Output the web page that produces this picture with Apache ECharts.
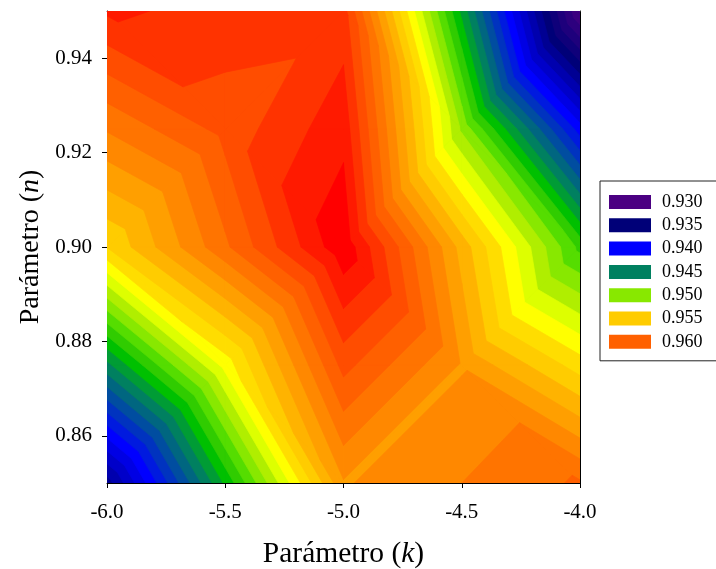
<!DOCTYPE html>
<html>
<head>
<meta charset="utf-8">
<style>html,body{margin:0;padding:0;background:#fff}#c{width:716px;height:569px}</style>
<script src="https://cdn.jsdelivr.net/npm/echarts@6/dist/echarts.min.js"></script>
</head>
<body>
<div id="c"></div>
<script>
// Data
const kValues = [-6, -5.5, -5, -4.5, -4];
const nValues = [0.85, 0.875, 0.90, 0.925, 0.95];
const n085  = [0.9365, 0.9472, 0.9579, 0.9590, 0.96015];
const n0875 = [0.9457, 0.9534, 0.96135, 0.9579, 0.9545];
const n090  = [0.95503, 0.9598, 0.9648, 0.9566, 0.9487];
const n0925 = [0.9591, 0.96135, 0.96368, 0.9508, 0.9405];
const n095  = [0.96317, 0.9627, 0.96243, 0.9467, 0.9308];
const surface = [n085, n0875, n090, n0925, n095];

const levels = [0.930,0.931,0.932,0.933,0.934,0.935,0.936,0.937,0.938,0.939,0.940,0.941,0.942,0.943,0.944,0.945,0.946,0.947,0.948,0.949,0.950,0.951,0.952,0.953,0.954,0.955,0.956,0.957,0.958,0.959,0.960,0.961,0.962,0.963,0.964];
const levelColors = ['#4b0082','#3c0080','#2d007e','#1e007c','#0f007a','#000078','#000093','#0000ae','#0000c9','#0000e4','#0000ff','#001adf','#0033bf','#004da0','#006680','#008060','#009c35','#00c000','#30cc00','#55dd00','#88e800','#b0ee00','#ddff00','#ffff00','#ffdd00','#ffcc00','#ffb300','#ff9f00','#ff8800','#ff7400','#ff6000','#ff4d00','#ff3300','#ff1a00','#ff0000'];

const legendLabels = ['0.930','0.935','0.940','0.945','0.950','0.955','0.960'];
const legendColors = ['#4b0082','#000078','#0000ff','#008060','#88e800','#ffcc00','#ff6000'];
const nTicks = [0.86, 0.88, 0.90, 0.92, 0.94];

// Triangles of the grid: diagonals join nodes with even i+j
function triangles() {
  const out = [];
  const node = (i, j) => [kValues[i], nValues[j], surface[j][i]];
  for (let j = 0; j < nValues.length - 1; j++) {
    for (let i = 0; i < kValues.length - 1; i++) {
      const a = node(i, j), b = node(i + 1, j), c = node(i + 1, j + 1), d = node(i, j + 1);
      if ((i + j) % 2 === 0) { out.push([a, b, c], [a, c, d]); }
      else { out.push([a, b, d], [b, c, d]); }
    }
  }
  return out;
}
// Part of a triangle with value >= level
function clipAbove(tri, level) {
  const res = [];
  for (let s = 0; s < tri.length; s++) {
    const p = tri[s], q = tri[(s + 1) % tri.length];
    const pIn = p[2] >= level, qIn = q[2] >= level;
    if (pIn) res.push(p);
    if (pIn !== qIn) {
      const t = (level - p[2]) / (q[2] - p[2]);
      res.push([p[0] + t * (q[0] - p[0]), p[1] + t * (q[1] - p[1]), level]);
    }
  }
  return res;
}
const tris = triangles();
const polys = [];
levels.forEach((lv, li) => {
  tris.forEach(t => {
    const poly = clipAbove(t, lv);
    if (poly.length >= 3) polys.push({ color: levelColors[li], pts: poly });
  });
});

const serif = 'Liberation Serif';
const chart = echarts.init(document.getElementById('c'), null, { renderer: 'canvas' });
const lineBlack = { show: true, onZero: false, lineStyle: { color: '#000', width: 1 } };
const legendSeries = legendLabels.map((name, i) => ({
  name, type: 'custom', coordinateSystem: 'cartesian2d', data: [],
  itemStyle: { color: legendColors[i] }, renderItem: () => null
}));
const titleStyle = size => ({ fontFamily: serif, fontSize: size, color: '#000', rich: { i: { fontFamily: serif, fontSize: size, fontStyle: 'italic', color: '#000' } } });
chart.setOption({
  animation: false,
  backgroundColor: '#fff',
  textStyle: { fontFamily: serif },
  grid: { left: 107, right: 136, top: 11, bottom: 86, containLabel: false, outerBoundsMode: 'none' },
  legend: {
    orient: 'vertical', left: 600, top: 181, width: 140,
    padding: [12, 70, 10, 9], itemWidth: 42, itemHeight: 14, itemGap: 5.3,
    icon: 'rect', borderColor: '#222', borderWidth: 1, backgroundColor: '#fff',
    data: legendLabels, selectedMode: false,
    textStyle: { fontFamily: serif, fontSize: 18, color: '#000', padding: [0, 0, 0, 6] }
  },
  xAxis: [{
    type: 'value', min: -6, max: -4, interval: 0.5, position: 'bottom',
    axisLine: lineBlack, splitLine: { show: false },
    axisTick: { show: true, length: 5, lineStyle: { color: '#000' } },
    axisLabel: { fontFamily: serif, fontSize: 21, color: '#000', margin: 19, formatter: v => v.toFixed(1) },
    name: 'Parámetro ({i|k})', nameLocation: 'middle', nameGap: 56,
    nameTextStyle: titleStyle(29.5)
  }, {
    type: 'value', min: -6, max: -4, position: 'top',
    axisLine: { show: true, onZero: false, lineStyle: { color: '#666', width: 1 } },
    axisTick: { show: false }, axisLabel: { show: false }, splitLine: { show: false }
  }],
  yAxis: [{
    type: 'value', min: 0.85, max: 0.95, position: 'left',
    axisLine: lineBlack, splitLine: { show: false },
    axisTick: { show: true, length: 5, lineStyle: { color: '#000' }, customValues: nTicks },
    axisLabel: { fontFamily: serif, fontSize: 21, color: '#000', margin: 15, customValues: nTicks, formatter: v => v.toFixed(2) },
    name: 'Parámetro ({i|n})', nameLocation: 'middle', nameGap: 62, nameRotate: 90,
    nameTextStyle: titleStyle(28)
  }, {
    type: 'value', min: 0.85, max: 0.95, position: 'right',
    axisLine: lineBlack, axisTick: { show: false }, axisLabel: { show: false }, splitLine: { show: false }
  }],
  series: [{
    name: 'contour', type: 'custom', coordinateSystem: 'cartesian2d', xAxisIndex: 0, yAxisIndex: 0,
    clip: true, progressive: 0, z: 1, silent: true,
    data: polys.map(p => [p.pts[0][0], p.pts[0][1]]),
    renderItem: (params, api) => {
      const p = polys[params.dataIndex];
      return {
        type: 'polygon',
        shape: { points: p.pts.map(q => api.coord([q[0], q[1]])) },
        style: { fill: p.color, stroke: p.color, lineWidth: 0.7 }
      };
    }
  }].concat(legendSeries)
});
</script>
</body>
</html>
